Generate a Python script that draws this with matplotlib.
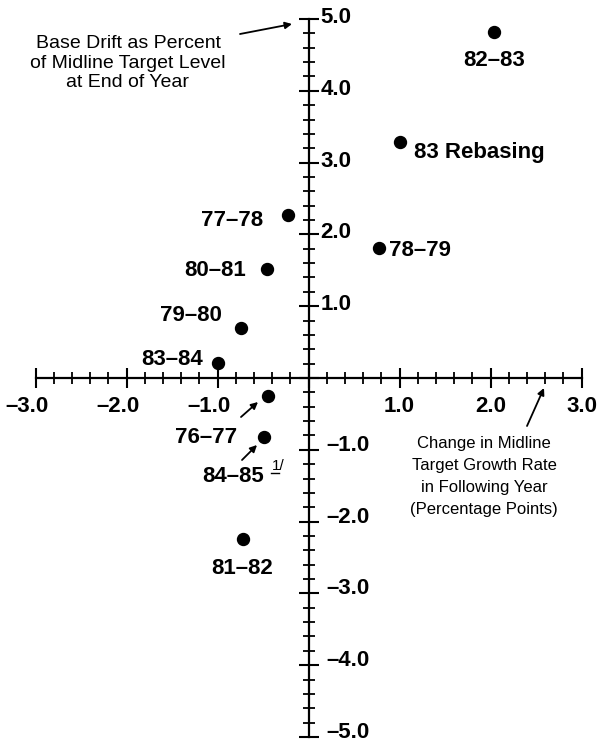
import matplotlib
matplotlib.use("Agg")
import matplotlib.pyplot as plt
from matplotlib.ticker import MultipleLocator
from matplotlib.lines import Line2D

# ---- data ----
periods = ["82–83", "83 Rebasing", "77–78", "78–79", "80–81", "79–80",
           "83–84", "76–77", "84–85", "81–82"]
target_change = [2.04, 1.00, -0.23, 0.77, -0.46, -0.74, -0.99, -0.45, -0.49, -0.72]
base_drift = [4.82, 3.29, 2.27, 1.81, 1.52, 0.70, 0.21, -0.25, -0.82, -2.24]

x_ticks = [-3, -2, -1, 1, 2, 3]
x_tick_labels = ["–3.0", "–2.0", "–1.0", "1.0", "2.0", "3.0"]
y_ticks = [5, 4, 3, 2, 1, -1, -2, -3, -4, -5]
y_tick_labels = ["5.0", "4.0", "3.0", "2.0", "1.0", "–1.0", "–2.0", "–3.0", "–4.0", "–5.0"]

y_title = ["Base Drift as Percent", "of Midline Target Level", "at End of Year"]
x_title = ["Change in Midline", "Target Growth Rate", "in Following Year", "(Percentage Points)"]

# ---- layout (pixel offsets of labels from their dots) ----
label_layout = {
    "82–83": (0, -34, "center"),
    "83 Rebasing": (15, -16, "left"),
    "77–78": (-24, -11, "right"),
    "78–79": (10, -8, "left"),
    "80–81": (-21, -7, "right"),
    "79–80": (-19, 7, "right"),
    "83–84": (-15, -2, "right"),
    "76–77": (-30, -47, "right"),
    "84–85": (0, -45, "right"),
    "81–82": (-1, -35, "center"),
}

W, H = 602, 744
FONT = ["Liberation Sans", "DejaVu Sans"]
plt.rcParams["font.family"] = FONT

fig = plt.figure(figsize=(W / 100, H / 100), dpi=100)
ax = fig.add_axes([35.5 / W, (H - 737) / H, 546 / W, 718 / H])
ax.set_xlim(-3, 3)
ax.set_ylim(-5, 5)
ax.patch.set_visible(False)

for s in ["top", "right"]:
    ax.spines[s].set_visible(False)
ax.spines["left"].set_position(("data", 0))
ax.spines["bottom"].set_position(("data", 0))
for s in ["left", "bottom"]:
    ax.spines[s].set_linewidth(1.6)

ax.xaxis.set_major_locator(MultipleLocator(1))
ax.xaxis.set_minor_locator(MultipleLocator(0.2))
ax.yaxis.set_major_locator(MultipleLocator(1))
ax.yaxis.set_minor_locator(MultipleLocator(0.2))
ax.tick_params(which="major", direction="inout", length=15, width=1.5,
               labelbottom=False, labelleft=False)
ax.tick_params(which="minor", direction="inout", length=8, width=1.3)

# tick labels
for v, lab in zip(x_ticks, x_tick_labels):
    if v < 0:
        ax.annotate(lab, (v, 0), xytext=(13, -34), textcoords="offset pixels",
                    ha="right", va="baseline", fontsize=16, fontweight="bold")
    else:
        ax.annotate(lab, (v, 0), xytext=(0, -34), textcoords="offset pixels",
                    ha="center", va="baseline", fontsize=16, fontweight="bold")
for v, lab in zip(y_ticks, y_tick_labels):
    dx, dy = (12, -4) if v > 0 else (18, -1)
    ax.annotate(lab, (0, v), xytext=(dx, dy), textcoords="offset pixels",
                ha="left", va="baseline", fontsize=16, fontweight="bold")

# points
ax.plot(target_change, base_drift, "o", color="black", markersize=8.6,
        clip_on=False, zorder=5)

for name, x, y in zip(periods, target_change, base_drift):
    dx, dy, ha = label_layout[name]
    ax.annotate(name, (x, y), xytext=(dx, dy), textcoords="offset pixels",
                ha=ha, va="baseline", fontsize=16, fontweight="bold")

# footnote marker for 84-85
fig.text(272 / W, 1 - 470 / H, "1/", fontsize=11, ha="left", va="baseline")
fig.add_artist(Line2D([271 / W, 279 / W], [1 - 473 / H, 1 - 473 / H],
                      color="black", lw=1.0, transform=fig.transFigure))

# axis titles
for i, line in enumerate(y_title):
    fig.text(128 / W, 1 - (48 + 19.5 * i) / H, line, fontsize=14,
             ha="center", va="baseline")
for i, line in enumerate(x_title):
    fig.text(484 / W, 1 - (448 + 22 * i) / H, line, fontsize=12,
             ha="center", va="baseline")

# arrows
arrow_kw = dict(arrowstyle="-|>", color="black", lw=1.3, mutation_scale=10,
                shrinkA=0, shrinkB=0)
arrows = [((240, 34), (292, 24)), ((527, 426), (544, 388)),
          ((241, 417), (258, 402)), ((242, 460), (257, 445))]
for (tx, ty), (hx, hy) in arrows:
    ax.annotate("", xy=(hx, H - hy), xycoords="figure pixels",
                xytext=(tx, H - ty), textcoords="figure pixels",
                arrowprops=arrow_kw)

fig.savefig("out.png", dpi=100)
